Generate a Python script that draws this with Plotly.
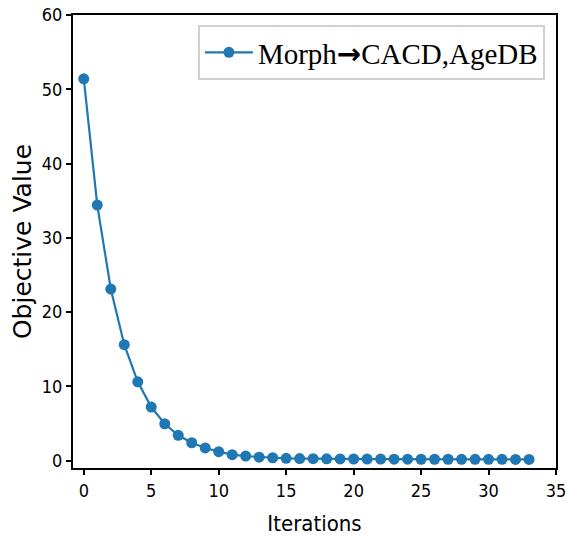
import plotly.graph_objects as go

iterations = list(range(34))
objective = [51.4, 34.4, 23.1, 15.6, 10.6, 7.2, 4.95, 3.4, 2.4, 1.7, 1.2, 0.8,
             0.6, 0.45, 0.38, 0.3, 0.27, 0.25, 0.23, 0.22, 0.21, 0.2, 0.2, 0.19,
             0.19, 0.18, 0.18, 0.18, 0.17, 0.17, 0.17, 0.17, 0.16, 0.16]
series_name = 'Morph<span style="font-family:DejaVu Sans"><b>→</b></span>CACD,AgeDB'
x_ticks = [0, 5, 10, 15, 20, 25, 30, 35]
y_ticks = [0, 10, 20, 30, 40, 50, 60]

fig = go.Figure()
fig.add_trace(go.Scatter(
    x=iterations, y=objective, mode="lines+markers", name=series_name,
    line=dict(color="#1f77b4", width=2.2),
    marker=dict(color="#1f77b4", size=11),
))

tickfont = dict(family="DejaVu Sans Condensed", size=18, color="black")
fig.update_layout(
    width=567, height=537,
    margin=dict(l=73, r=11, t=15, b=69),
    plot_bgcolor="white", paper_bgcolor="white",
    showlegend=True,
    legend=dict(
        x=0.977, y=0.978, xanchor="right", yanchor="top",
        font=dict(family="Liberation Serif", size=29, color="black"),
        bgcolor="white", bordercolor="#d0d0d0", borderwidth=2,
        itemwidth=48, tracegroupgap=0,
    ),
    xaxis=dict(
        range=[-0.8, 35], tickvals=x_ticks, showgrid=False, zeroline=False,
        showline=True, linecolor="black", linewidth=2, mirror=True,
        ticks="outside", ticklen=5, tickwidth=2, tickcolor="black",
        tickfont=tickfont, automargin=False, ticklabeloverflow="allow",
        title=dict(text="Iterations", font=dict(family="DejaVu Sans Condensed", size=22, color="black"), standoff=16),
    ),
    yaxis=dict(
        range=[-1, 60], tickvals=y_ticks, showgrid=False, zeroline=False,
        showline=True, linecolor="black", linewidth=2, mirror=True,
        ticks="outside", ticklen=5, tickwidth=2, tickcolor="black",
        tickfont=tickfont, automargin=False, ticklabeloverflow="allow",
        title=dict(text="Objective Value", font=dict(family="DejaVu Sans", size=25, color="black"), standoff=3),
    ),
)
fig.write_html("out.html", config={"displayModeBar": False},
               post_script="document.body.style.margin='0';")
